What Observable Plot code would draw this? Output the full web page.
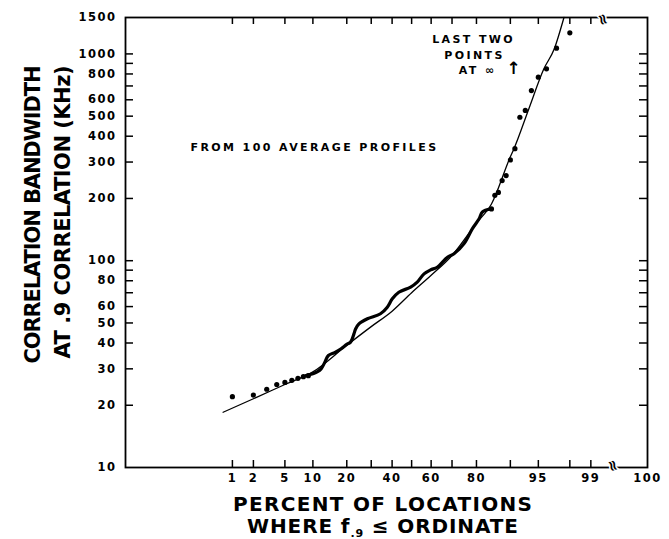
<!DOCTYPE html>
<html><head><meta charset="utf-8">
<script src="https://cdn.jsdelivr.net/npm/d3@7"></script>
<script src="https://cdn.jsdelivr.net/npm/@observablehq/plot@0.6"></script>
<style>body{margin:0;background:#fff}svg{display:block}</style>
</head><body><div id="chart"></div><script>
// ---- data (percent of locations, correlation bandwidth kHz) ----
const lowDotsP = [1, 2, 3, 4, 5, 6, 7, 8, 9];
const lowDotsV = [22.0, 22.4, 23.9, 25.2, 25.8, 26.4, 27.0, 27.5, 27.8];
const highDotsP = [85, 86, 87, 88, 89, 90, 91, 92, 93, 94, 95, 96, 97, 98];
const highDotsV = [178, 207, 214, 244, 258, 307, 348, 494, 533, 665, 772, 847, 1066, 1265];
const waveP = [8.5, 10, 11, 12, 13, 14, 16, 18, 20, 21.4, 22.7, 23.4, 24.7, 28.3, 34.3, 37.6, 40.1, 43.4, 49.5, 52.9, 56.4, 59.7, 63, 67.9, 70.9, 75.2, 78.5, 80.9, 82.1, 84.8];
const waveV = [27.8, 28.4, 29.0, 30.0, 32.3, 34.8, 36.0, 37.5, 39.4, 40.4, 44.3, 46.9, 49.5, 52.4, 55.4, 59.6, 65.4, 70.4, 74.5, 78.7, 86.4, 90.3, 93, 104, 108, 121, 143, 159, 172, 178];
const fitP = [0.72, 2, 5, 10, 20, 30, 40, 50, 60, 70, 80, 85, 90, 90.8, 93.6, 95.7, 96.8, 97.5, 97.6];
const fitV = [18.5, 21.5, 25.2, 29.0, 39, 48, 57, 70, 85, 106, 152, 188, 318, 348, 543, 847, 1058, 1423, 1500];
const xTickP = [1, 2, 5, 10, 20, 30, 40, 50, 60, 70, 80, 90, 95, 98, 99];
const xLabelP = [1, 2, 5, 10, 20, 40, 60, 80, 95, 99, 100];
const yTickV = [20, 30, 40, 50, 60, 70, 80, 90, 100, 200, 300, 400, 500, 600, 700, 800, 900, 1000];
const yLabelV = [10, 20, 30, 40, 50, 60, 80, 100, 200, 300, 400, 500, 600, 800, 1000, 1500];
const xDomainP = [0.0102, 99.89];   // right edge stands for "100"
const yDomainV = [10, 1500];
const breakP = [99.47];
const noteLeft = [{p: 0.205, v: 353, t: "FROM 100 AVERAGE PROFILES"}];
const noteRight = [
  {p: 78.95, v: 1174, t: "LAST TWO"},
  {p: 79.3, v: 982, t: "POINTS"},
  {p: 80.4, v: 831, t: "AT \u221E"}
];
const noteArrow = [{p: 90.7, v: 845, t: "\u2191"}];

// ---- normal probability transform ----
function probit(p) {
  const a=[-3.969683028665376e+01,2.209460984245205e+02,-2.759285104469687e+02,1.383577518672690e+02,-3.066479806614716e+01,2.506628277459239e+00];
  const b=[-5.447609879822406e+01,1.615858368580409e+02,-1.556989798598866e+02,6.680131188771972e+01,-1.328068155288572e+01];
  const c=[-7.784894002430293e-03,-3.223964580411365e-01,-2.400758277161838e+00,-2.549671348193817e+00,4.374664141464968e+00,2.938163982698783e+00];
  const d=[7.784695709041462e-03,3.224671290700398e-01,2.445134137142996e+00,3.754408661907416e+00];
  const plow=0.02425, phigh=1-plow; let q, r;
  if (p < plow) { q=Math.sqrt(-2*Math.log(p)); return (((((c[0]*q+c[1])*q+c[2])*q+c[3])*q+c[4])*q+c[5])/((((d[0]*q+d[1])*q+d[2])*q+d[3])*q+1); }
  if (p <= phigh) { q=p-0.5; r=q*q; return (((((a[0]*r+a[1])*r+a[2])*r+a[3])*r+a[4])*r+a[5])*q/(((((b[0]*r+b[1])*r+b[2])*r+b[3])*r+b[4])*r+1); }
  q=Math.sqrt(-2*Math.log(1-p)); return -(((((c[0]*q+c[1])*q+c[2])*q+c[3])*q+c[4])*q+c[5])/((((d[0]*q+d[1])*q+d[2])*q+d[3])*q+1);
}
const pz = p => probit(Math.min(p, xDomainP[1]) / 100);

const lowDots = lowDotsP.map((p, i) => ({p, v: lowDotsV[i]}));
const highDots = highDotsP.map((p, i) => ({p, v: highDotsV[i]}));
const wave = waveP.map((p, i) => ({p, v: waveV[i]}));
const fit = fitP.map((p, i) => ({p, v: fitV[i]}));

const FONT = "'DejaVu Sans', sans-serif";
const B = {fontWeight: "bold", fill: "#000"};
const plot = Plot.plot({
  width: 669, height: 539,
  marginLeft: 125, marginRight: 22, marginTop: 17, marginBottom: 72,
  style: {fontFamily: FONT, background: "#fff", color: "#000", overflow: "visible"},
  x: {type: "linear", domain: xDomainP.map(pz), axis: null},
  y: {type: "log", domain: yDomainV, axis: null},
  marks: [
    Plot.frame({stroke: "#000", strokeWidth: 1.8}),
    // ticks (inward)
    Plot.tickX(xTickP, {x: pz, stroke: "#000", strokeWidth: 1.5, insetTop: 443}),
    Plot.tickX(xTickP, {x: pz, stroke: "#000", strokeWidth: 1.5, insetBottom: 443}),
    Plot.tickY(yTickV, {y: d => d, stroke: "#000", strokeWidth: 1.5, insetRight: 514}),
    Plot.tickY(yTickV, {y: d => d, stroke: "#000", strokeWidth: 1.5, insetLeft: 514}),
    // axis break marks
    Plot.text(breakP, {x: pz, frameAnchor: "top", text: () => "\u2248", rotate: 70, fontSize: 15, ...B, stroke: "#fff", strokeWidth: 3}),
    Plot.text(breakP, {x: pz, frameAnchor: "bottom", text: () => "\u2248", rotate: 70, fontSize: 15, ...B, stroke: "#fff", strokeWidth: 3}),
    // tick labels
    Plot.text(xLabelP, {x: pz, frameAnchor: "bottom", dy: 14, text: d => String(d), fontSize: 11.5, ...B, ariaDescription: "xlabels"}),
    Plot.text(yLabelV, {y: d => d, frameAnchor: "left", dx: -9, textAnchor: "end", text: d => String(d), fontSize: 11.5, ...B, ariaDescription: "ylabels"}),
    // axis titles
    Plot.text(["PERCENT OF LOCATIONS"], {frameAnchor: "bottom", dx: -4, dy: 43, lineAnchor: "bottom", fontSize: 20, ...B, ariaDescription: "xtitle"}),
    Plot.text(["WHERE f.9 \u2264 ORDINATE"], {frameAnchor: "bottom", dx: -4, dy: 65, lineAnchor: "bottom", fontSize: 20, ...B, ariaDescription: "xtitle2"}),
    Plot.text(["CORRELATION BANDWIDTH"], {frameAnchor: "top-left", dx: -100, dy: 48, rotate: -90, textAnchor: "end", fontSize: 21, ...B, ariaDescription: "ytitle1"}),
    Plot.text(["AT .9 CORRELATION (KHz)"], {frameAnchor: "top-left", dx: -70, dy: 48, rotate: -90, textAnchor: "end", fontSize: 21, ...B, ariaDescription: "ytitle2"}),
    // annotations
    Plot.text(noteLeft, {x: d => pz(d.p), y: "v", text: "t", textAnchor: "start", fontSize: 11, ...B, ariaDescription: "notes"}),
    Plot.text(noteRight, {x: d => pz(d.p), y: "v", text: "t", textAnchor: "middle", fontSize: 11, ...B, ariaDescription: "notes2"}),
    Plot.text(noteArrow, {x: d => pz(d.p), y: "v", text: "t", textAnchor: "middle", fontSize: 17, ...B}),
    // data
    Plot.line(fit, {x: d => pz(d.p), y: "v", curve: "monotone-x", stroke: "#000", strokeWidth: 1.3}),
    Plot.line(wave, {x: d => pz(d.p), y: "v", curve: "catmull-rom", stroke: "#000", strokeWidth: 3.2}),
    Plot.dot(lowDots, {x: d => pz(d.p), y: "v", r: 2.6, fill: "#000"}),
    Plot.dot(highDots, {x: d => pz(d.p), y: "v", r: 2.6, fill: "#000"})
  ]
});
document.getElementById("chart").appendChild(plot);
const svg = d3.select(plot);
const sel = k => svg.selectAll(`g[aria-description="${k}"] text`);
sel("xlabels").attr("letter-spacing", "1.5px");
sel("ylabels").attr("letter-spacing", "1.5px");
sel("notes").attr("letter-spacing", "2.4px");
sel("notes2").attr("letter-spacing", "2.4px");
sel("xtitle").attr("textLength", 299).attr("lengthAdjust", "spacing");
sel("ytitle1").attr("textLength", 298).attr("lengthAdjust", "spacing");
sel("ytitle2").attr("textLength", 293).attr("lengthAdjust", "spacing");
// subscript ".9" in the x title
sel("xtitle2").each(function() {
  const t = d3.select(this);
  const s = t.text();
  const i = s.indexOf(".9");
  t.text(null);
  t.append("tspan").text(s.slice(0, i));
  t.append("tspan").attr("font-size", 11).attr("dy", 4).text(s.slice(i, i + 2));
  t.append("tspan").attr("dy", -4).text(" " + s.slice(i + 2).trim());
  t.attr("textLength", 271).attr("lengthAdjust", "spacing");
});
</script></body></html>
